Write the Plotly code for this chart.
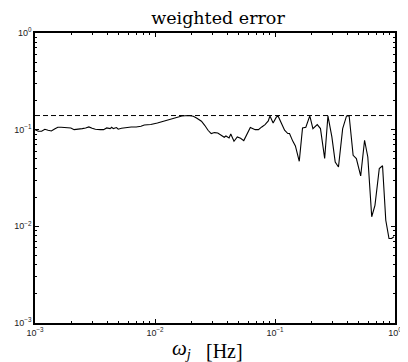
import plotly.graph_objects as go

freq = [0.001, 0.001064, 0.001135, 0.001208, 0.001285, 0.001368, 0.001456, 0.001549, 0.001651,
        0.001815, 0.00199, 0.002119, 0.002254, 0.002477, 0.002641, 0.002811, 0.002992, 0.003186,
        0.003499, 0.003724, 0.003963, 0.004224, 0.004355, 0.004498, 0.004779, 0.004937, 0.005254,
        0.005768, 0.006339, 0.006966, 0.007638, 0.008147, 0.009226, 0.01047, 0.01188, 0.01346,
        0.01525, 0.01673, 0.01897, 0.02085, 0.02218, 0.02438, 0.02595, 0.02766, 0.02941, 0.03129,
        0.03334, 0.03548, 0.03776, 0.039, 0.04143, 0.0428, 0.04553, 0.04851, 0.05163, 0.05495,
        0.05855, 0.06228, 0.06842, 0.07278, 0.07762, 0.0826, 0.0879, 0.09078, 0.09646, 0.1028,
        0.106, 0.113, 0.1202, 0.1279, 0.1321, 0.1406, 0.1479, 0.1593, 0.1696, 0.1807, 0.195,
        0.207, 0.2249, 0.2393, 0.2593, 0.2761, 0.2978, 0.3175, 0.338, 0.3664, 0.3945, 0.415,
        0.4477, 0.4764, 0.5176, 0.5577, 0.5935, 0.6397, 0.6808, 0.7397, 0.7873, 0.8378, 0.8913,
        0.9355, 0.98]

error = [0.1, 0.0962, 0.0962, 0.101, 0.0986, 0.097, 0.1017, 0.1059, 0.1059,
         0.1059, 0.1042, 0.1, 0.1017, 0.1026, 0.1042, 0.1067, 0.1033, 0.101,
         0.1, 0.1, 0.1042, 0.1026, 0.1059, 0.1026, 0.1051, 0.101, 0.1033,
         0.1051, 0.1067, 0.1067, 0.1084, 0.1119, 0.1129, 0.1173, 0.1222, 0.1282,
         0.1343, 0.1387, 0.14, 0.1377, 0.1321, 0.1222, 0.111, 0.0986, 0.0912, 0.0933,
         0.0924, 0.0875, 0.0834, 0.0861, 0.0821, 0.0903, 0.0759, 0.0841, 0.0815, 0.0771,
         0.0912, 0.1051, 0.1, 0.1, 0.1067, 0.1129, 0.123, 0.1387, 0.1173, 0.1353,
         0.1387, 0.1156, 0.0986, 0.0912, 0.0912, 0.0761, 0.0678, 0.0471, 0.1042, 0.1059, 0.1387,
         0.1026, 0.1129, 0.1026, 0.0503, 0.1387, 0.0841, 0.0463, 0.0411, 0.1026, 0.1387, 0.1387,
         0.0543, 0.0503, 0.0332, 0.0777, 0.0522, 0.01257, 0.0165, 0.0396, 0.0423, 0.01156, 0.00748,
         0.00748, 0.0078]

bound_x = [0.001, 1.0]
bound_y = [0.14, 0.14]

tick_vals = [0.001, 0.01, 0.1, 1]
tick_text = ["10<sup>−3</sup>", "10<sup>−2</sup>", "10<sup>−1</sup>", "10<sup>0</sup>"]
minor_vals = [m * 10.0 ** e for e in (-3, -2, -1) for m in range(2, 10)]

fig = go.Figure()
fig.add_trace(go.Scatter(x=bound_x, y=bound_y, mode="lines",
                         line=dict(color="black", width=1, dash="5px,3px"),
                         showlegend=False, hoverinfo="skip"))
fig.add_trace(go.Scatter(x=freq, y=error, mode="lines",
                         line=dict(color="black", width=1.1),
                         showlegend=False))

axis_common = dict(
    type="log",
    showgrid=False,
    zeroline=False,
    showline=True,
    linecolor="black",
    linewidth=1.5,
    mirror="ticks",
    ticks="inside",
    ticklen=4,
    tickwidth=1,
    tickcolor="black",
    tickvals=tick_vals,
    ticktext=tick_text,
    tickfont=dict(family="Liberation Sans, Arial, sans-serif", size=9, color="#222"),
    minor=dict(ticks="inside", ticklen=2, tickwidth=1, tickcolor="black",
               showgrid=False, tickvals=minor_vals),
)

fig.update_xaxes(range=[-3, 0], **axis_common)
fig.update_yaxes(range=[-3, 0], **axis_common)

fig.update_layout(
    width=400, height=354,
    margin=dict(l=27, r=6, t=25, b=39),
    paper_bgcolor="white",
    plot_bgcolor="white",
    title=dict(text="weighted error", x=0.525, xanchor="center", y=0.972, yanchor="middle",
               font=dict(family="DejaVu Serif, serif", size=17.5, color="black")),
)
fig.add_annotation(text="<i>ω</i><sub><i>j</i></sub>", xref="paper", yref="paper",
                   x=0.406, y=-0.09, xanchor="center", yanchor="middle", showarrow=False,
                   font=dict(family="Liberation Serif, serif", size=21, color="black"))
fig.add_annotation(text="[Hz]", xref="paper", yref="paper",
                   x=0.527, y=-0.0966, xanchor="center", yanchor="middle", showarrow=False,
                   font=dict(family="Liberation Serif, serif", size=20, color="black"))

fig.write_html("out.html")
